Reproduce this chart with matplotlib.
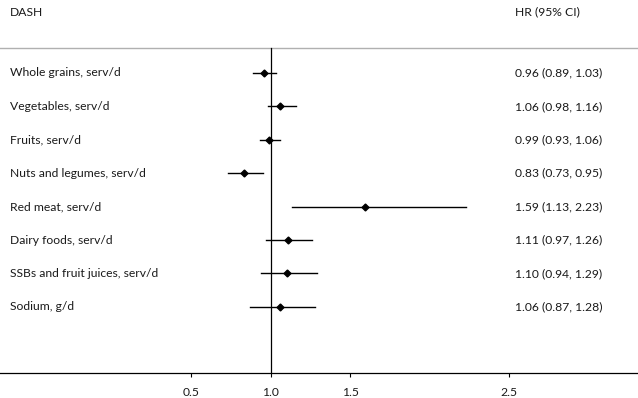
import numpy as np
import matplotlib
matplotlib.use("Agg")
import matplotlib.pyplot as plt

plt.rcParams['font.family'] = ['Lato', 'DejaVu Sans']

labels = ["Whole grains, serv/d", "Vegetables, serv/d", "Fruits, serv/d",
          "Nuts and legumes, serv/d", "Red meat, serv/d", "Dairy foods, serv/d",
          "SSBs and fruit juices, serv/d", "Sodium, g/d"]
hr = [0.96, 1.06, 0.99, 0.83, 1.59, 1.11, 1.10, 1.06]
lo = [0.89, 0.98, 0.93, 0.73, 1.13, 0.97, 0.94, 0.87]
hi = [1.03, 1.16, 1.06, 0.95, 2.23, 1.26, 1.29, 1.28]
ticks = [0.5, 1.0, 1.5, 2.5]
tick_labels = ["0.5", "1.0", "1.5", "2.5"]

W, H = 638, 398
fig = plt.figure(figsize=(W / 100, H / 100), dpi=100)
# axes spans pixel rows 0..373 (bottom spine is the x axis line)
ax = fig.add_axes([0, (H - 373) / H, 1, 373 / H])
ax.set_xlim(-0.704, 3.31)
ax.set_ylim(373, 0)

row_y = 73 + 33.4 * np.arange(len(labels))
txt = '#1a1a1a'
fs = 8.7
x_lab = -0.64
x_hr = 2.535

# header
ax.text(x_lab, 12, "DASH", fontsize=fs, color=txt, va='center', ha='left')
ax.text(x_hr, 12, "HR (95% CI)", fontsize=fs, color=txt, va='center', ha='left')
ax.plot([-0.704, 3.31], [48, 48], color='#b0b0b0', lw=1, clip_on=False)

# reference line
ax.plot([1, 1], [48, 373], color='black', lw=0.9)

for i, y in enumerate(row_y):
    ax.text(x_lab, y, labels[i], fontsize=fs, color=txt, va='center', ha='left')
    ax.text(x_hr, y, f"{hr[i]:.2f} ({lo[i]:.2f}, {hi[i]:.2f})", fontsize=fs,
            color=txt, va='center', ha='left')
    ax.plot([lo[i], hi[i]], [y, y], color='black', lw=1)
    ax.plot(hr[i], y, marker='D', color='black', ms=3.5)

for s in ['top', 'right', 'left']:
    ax.spines[s].set_visible(False)
ax.spines['bottom'].set_color('black')
ax.spines['bottom'].set_linewidth(0.9)
ax.set_yticks([])
ax.set_xticks(ticks)
ax.set_xticklabels(tick_labels)
ax.tick_params(axis='x', length=3, width=0.8, labelsize=fs, labelcolor=txt, pad=7)

fig.savefig("out.png", dpi=100)
